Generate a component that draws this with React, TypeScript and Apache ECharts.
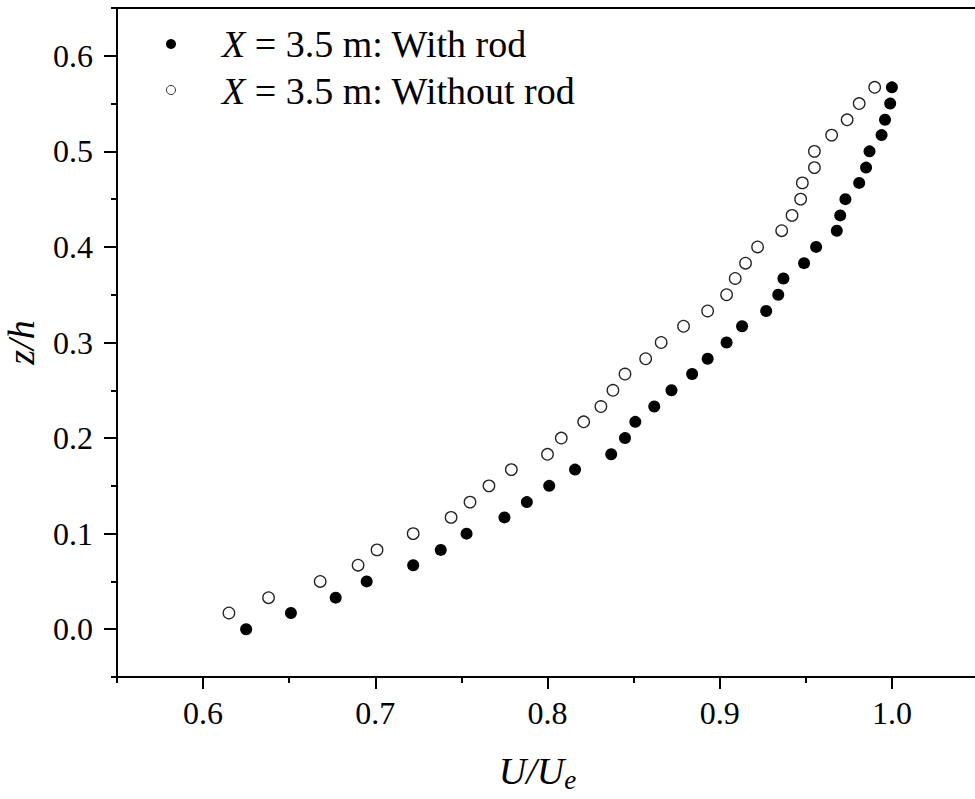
import React, { useEffect, useRef } from "react";
import * as echarts from "echarts";

const zWith = [0.0, 0.017, 0.033, 0.05, 0.067, 0.083, 0.1, 0.117, 0.133, 0.15, 0.167, 0.183, 0.2, 0.217, 0.233, 0.25, 0.267, 0.283, 0.3, 0.317, 0.333, 0.35, 0.367, 0.383, 0.4, 0.417, 0.433, 0.45, 0.467, 0.483, 0.5, 0.517, 0.533, 0.55, 0.567];
const uWith = [0.625, 0.651, 0.677, 0.695, 0.722, 0.738, 0.753, 0.775, 0.788, 0.801, 0.816, 0.837, 0.845, 0.851, 0.862, 0.872, 0.884, 0.893, 0.904, 0.913, 0.927, 0.934, 0.937, 0.949, 0.956, 0.968, 0.97, 0.973, 0.981, 0.985, 0.987, 0.994, 0.996, 0.999, 1.0];

const zWithout = [0.017, 0.033, 0.05, 0.067, 0.083, 0.1, 0.117, 0.133, 0.15, 0.167, 0.183, 0.2, 0.217, 0.233, 0.25, 0.267, 0.283, 0.3, 0.317, 0.333, 0.35, 0.367, 0.383, 0.4, 0.417, 0.433, 0.45, 0.467, 0.483, 0.5, 0.517, 0.533, 0.55, 0.567];
const uWithout = [0.615, 0.638, 0.668, 0.69, 0.701, 0.722, 0.744, 0.755, 0.766, 0.779, 0.8, 0.808, 0.821, 0.831, 0.838, 0.845, 0.857, 0.866, 0.879, 0.893, 0.904, 0.909, 0.915, 0.922, 0.936, 0.942, 0.947, 0.948, 0.955, 0.955, 0.965, 0.974, 0.981, 0.99];

const xMajor = [0.6, 0.7, 0.8, 0.9, 1.0];
const xMinor = [0.55, 0.65, 0.75, 0.85, 0.95, 1.05];
const yMajor = [0.0, 0.1, 0.2, 0.3, 0.4, 0.5, 0.6];
const yMinor = [-0.05, 0.05, 0.15, 0.25, 0.35, 0.45, 0.55, 0.65];

const legendLabels = ["{i|X} = 3.5 m: With rod", "{i|X} = 3.5 m: Without rod"];

const FONT = "Liberation Serif";

export default function App() {
  const ref = useRef<HTMLDivElement>(null);
  useEffect(() => {
    if (!ref.current) return;
    const chart = echarts.init(ref.current, null, { renderer: "svg" });
    const tickFont = { fontFamily: FONT, fontSize: 32, color: "#000" };
    const legendRich = {
      i: { fontFamily: FONT, fontSize: 38, fontStyle: "italic", fill: "#000" },
    };
    chart.setOption({
      animation: false,
      backgroundColor: "#fff",
      grid: {
        left: 117,
        top: 8,
        right: -3,
        bottom: 122,
        show: true,
        borderColor: "#000",
        borderWidth: 2,
        containLabel: false,
        outerBoundsMode: "none",
      },
      xAxis: [
        {
          type: "value",
          min: 0.55,
          max: 1.05,
          position: "bottom",
          splitLine: { show: false },
          axisLine: { show: true, onZero: false, lineStyle: { color: "#000", width: 2 } },
          axisTick: { show: true, length: 12, lineStyle: { color: "#000", width: 2 }, customValues: xMajor },
          axisLabel: {
            ...tickFont,
            margin: 20,
            customValues: xMajor,
            formatter: (v: number) => v.toFixed(1),
          },
          name: "{u|U/U}{e|e}",
          nameLocation: "middle",
          nameGap: 72,
          nameTextStyle: {
            padding: [0, 20, 0, 0],
            rich: {
              u: { fontFamily: FONT, fontSize: 38, fontStyle: "italic", color: "#000", lineHeight: 44 },
              e: { fontFamily: FONT, fontSize: 27, fontStyle: "italic", color: "#000", lineHeight: 6, verticalAlign: "bottom" },
            },
          },
        },
        {
          type: "value",
          min: 0.55,
          max: 1.05,
          position: "bottom",
          splitLine: { show: false },
          axisLine: { show: false, onZero: false },
          axisTick: { show: true, length: 6, lineStyle: { color: "#000", width: 2 }, customValues: xMinor },
          axisLabel: { show: false },
        },
      ],
      yAxis: [
        {
          type: "value",
          min: -0.05,
          max: 0.65,
          position: "left",
          splitLine: { show: false },
          axisLine: { show: true, onZero: false, lineStyle: { color: "#000", width: 2 } },
          axisTick: { show: true, length: 13, lineStyle: { color: "#000", width: 2 }, customValues: yMajor },
          axisLabel: {
            ...tickFont,
            margin: 24,
            customValues: yMajor,
            formatter: (v: number) => v.toFixed(1),
          },
          name: "{z|z/h}",
          nameLocation: "middle",
          nameRotate: 90,
          nameGap: 79,
          nameTextStyle: {
            rich: {
              z: { fontFamily: FONT, fontSize: 38, fontStyle: "italic", color: "#000", lineHeight: 34 },
            },
          },
        },
        {
          type: "value",
          min: -0.05,
          max: 0.65,
          position: "left",
          splitLine: { show: false },
          axisLine: { show: false, onZero: false },
          axisTick: { show: true, length: 6, lineStyle: { color: "#000", width: 2 }, customValues: yMinor },
          axisLabel: { show: false },
        },
      ],
      series: [
        {
          type: "scatter",
          name: "With rod",
          xAxisIndex: 0,
          yAxisIndex: 0,
          symbol: "circle",
          symbolSize: 12,
          itemStyle: { color: "#000", opacity: 1 },
          data: uWith.map((u, i) => [u, zWith[i]]),
        },
        {
          type: "scatter",
          name: "Without rod",
          xAxisIndex: 0,
          yAxisIndex: 0,
          symbol: "circle",
          symbolSize: 11.5,
          itemStyle: { color: "#fff", borderColor: "#222", borderWidth: 1.3, opacity: 1 },
          data: uWithout.map((u, i) => [u, zWithout[i]]),
        },
      ],
      graphic: [
        { type: "circle", shape: { cx: 171, cy: 44, r: 5 }, style: { fill: "#000" } },
        {
          type: "text",
          x: 222,
          y: 44,
          style: {
            text: legendLabels[0],
            fontFamily: FONT,
            fontSize: 38,
            fill: "#000",
            verticalAlign: "middle",
            rich: legendRich,
          },
        },
        { type: "circle", shape: { cx: 171, cy: 90, r: 4.5 }, style: { fill: "#fff", stroke: "#333", lineWidth: 1 } },
        {
          type: "text",
          x: 222,
          y: 91,
          style: {
            text: legendLabels[1],
            fontFamily: FONT,
            fontSize: 38,
            fill: "#000",
            verticalAlign: "middle",
            rich: legendRich,
          },
        },
      ],
    });
    return () => chart.dispose();
  }, []);
  return (
    <div
      ref={ref}
      style={{ position: "fixed", left: 0, top: 0, width: 975, height: 799, background: "#fff" }}
    />
  );
}
